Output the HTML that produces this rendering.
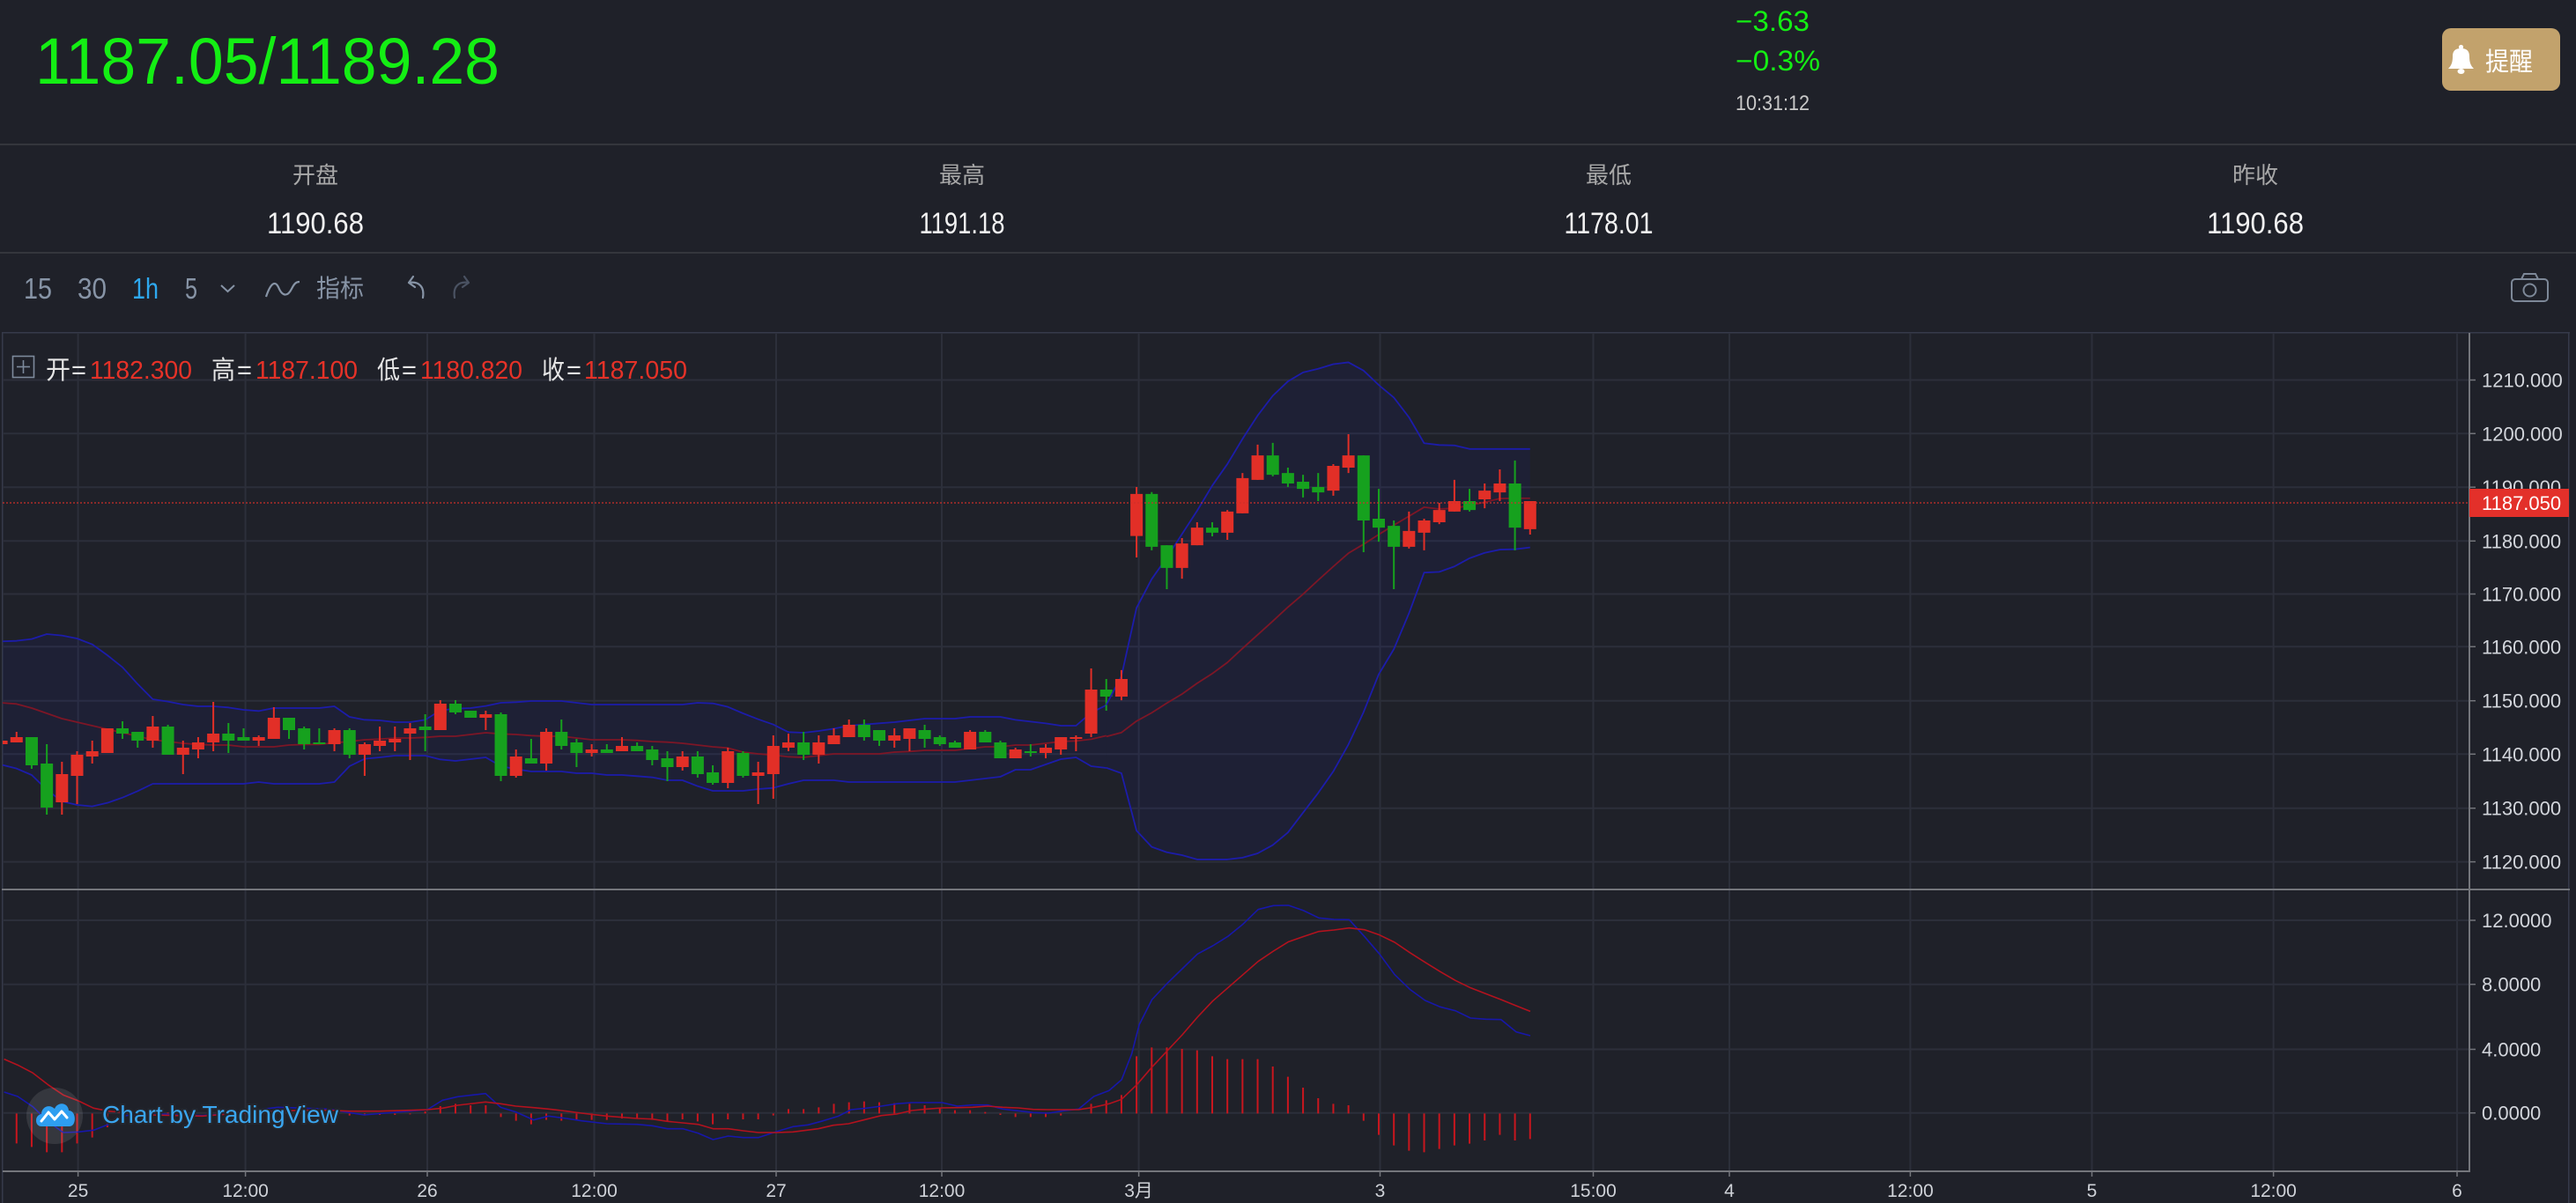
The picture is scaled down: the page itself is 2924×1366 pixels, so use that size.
<!DOCTYPE html>
<html>
<head>
<meta charset="utf-8">
<style>
html,body{margin:0;padding:0;background:#1f2129;}
svg{display:block;}
text{font-family:"Liberation Sans","Noto Sans CJK SC",sans-serif;}
</style>
</head>
<body>
<svg width="2924" height="1366" viewBox="0 0 2924 1366" xmlns="http://www.w3.org/2000/svg">
<defs>
<clipPath id="cm"><rect x="3" y="378" width="2800" height="631"/></clipPath>
<clipPath id="cd"><rect x="3" y="1011" width="2800" height="319"/></clipPath>
</defs>
<rect x="0" y="0" width="2924" height="1366" fill="#1f2129"/>

<!-- Header -->
<text x="40" y="95" font-size="74" fill="#14ee14" textLength="527" lengthAdjust="spacingAndGlyphs">1187.05/1189.28</text>
<text x="1970" y="35" font-size="32" fill="#14ee14" textLength="84" lengthAdjust="spacingAndGlyphs">−3.63</text>
<text x="1970" y="80" font-size="32" fill="#14ee14" textLength="96" lengthAdjust="spacingAndGlyphs">−0.3%</text>
<text x="1970" y="125" font-size="24" fill="#c8c8c8" textLength="84" lengthAdjust="spacingAndGlyphs">10:31:12</text>
<rect x="2772" y="32" width="134" height="71" rx="10" fill="#c2a26c"/>
<circle cx="2793.5" cy="53.5" r="2.6" fill="#fff"/>
<path d="M2779,78 L2808,78 C2804,74 2803,70 2803,64 C2803,57 2799,55 2793.5,55 C2788,55 2784,57 2784,64 C2784,70 2783,74 2779,78 Z" fill="#fff"/>
<ellipse cx="2793.5" cy="81" rx="4" ry="3" fill="#fff"/>
<text x="2821" y="80" font-size="29" fill="#fff" textLength="54" lengthAdjust="spacingAndGlyphs">提醒</text>

<rect x="0" y="163" width="2924" height="2" fill="#34363c"/>
<text x="358" y="208" font-size="26" fill="#a8a8a8" text-anchor="middle">开盘</text>
<text x="1092" y="208" font-size="26" fill="#a8a8a8" text-anchor="middle">最高</text>
<text x="1826" y="208" font-size="26" fill="#a8a8a8" text-anchor="middle">最低</text>
<text x="2560" y="208" font-size="26" fill="#a8a8a8" text-anchor="middle">昨收</text>
<text x="358" y="265" font-size="34" fill="#f2f2f2" text-anchor="middle" textLength="110" lengthAdjust="spacingAndGlyphs">1190.68</text>
<text x="1092" y="265" font-size="34" fill="#f2f2f2" text-anchor="middle" textLength="97" lengthAdjust="spacingAndGlyphs">1191.18</text>
<text x="1826" y="265" font-size="34" fill="#f2f2f2" text-anchor="middle" textLength="101" lengthAdjust="spacingAndGlyphs">1178.01</text>
<text x="2560" y="265" font-size="34" fill="#f2f2f2" text-anchor="middle" textLength="110" lengthAdjust="spacingAndGlyphs">1190.68</text>
<rect x="0" y="286" width="2924" height="2" fill="#34363c"/>

<!-- Toolbar -->
<text x="27" y="339" font-size="33" fill="#8794a6" textLength="32" lengthAdjust="spacingAndGlyphs">15</text>
<text x="88" y="339" font-size="33" fill="#8794a6" textLength="33" lengthAdjust="spacingAndGlyphs">30</text>
<text x="150" y="339" font-size="33" fill="#2ea8ee" textLength="30" lengthAdjust="spacingAndGlyphs">1h</text>
<text x="210" y="339" font-size="33" fill="#8794a6" textLength="14" lengthAdjust="spacingAndGlyphs">5</text>
<polyline points="251,324 258.5,331 266,324" fill="none" stroke="#8794a6" stroke-width="2"/>
<path d="M302,337 C307,322 312,318 316,326 C320,336 326,338 331,328 C334,322 336,320 340,320" fill="none" stroke="#8794a6" stroke-width="2.2"/>
<text x="359" y="337" font-size="28" fill="#8794a6" textLength="54" lengthAdjust="spacingAndGlyphs">指标</text>
<path d="M480,338 C482,326 476,319 464,321 M464,321 L469,314 M464,321 L471,326" fill="none" stroke="#8794a6" stroke-width="2.2" stroke-linecap="round"/>
<path d="M516,338 C514,326 520,319 532,321 M532,321 L527,314 M532,321 L525,326" fill="none" stroke="#4a5262" stroke-width="2.2" stroke-linecap="round"/>
<rect x="2851" y="317" width="41" height="25" rx="4" fill="none" stroke="#7d8898" stroke-width="2"/>
<path d="M2862,317 L2865,311 L2878,311 L2881,317" fill="none" stroke="#7d8898" stroke-width="2"/>
<circle cx="2871.5" cy="329.5" r="7" fill="none" stroke="#7d8898" stroke-width="2"/>

<!-- Chart frame -->
<rect x="2" y="377" width="2915" height="1.5" fill="#363a4a"/>
<rect x="2" y="377" width="1.5" height="989" fill="#363a4a"/>
<rect x="2915" y="377" width="1.5" height="989" fill="#363a4a"/>

<!-- Gridlines -->
<g stroke="#2c2f3a" stroke-width="2">
<line x1="3" y1="431.5" x2="2803" y2="431.5"/>
<line x1="3" y1="492.3" x2="2803" y2="492.3"/>
<line x1="3" y1="553.2" x2="2803" y2="553.2"/>
<line x1="3" y1="614.3" x2="2803" y2="614.3"/>
<line x1="3" y1="674.5" x2="2803" y2="674.5"/>
<line x1="3" y1="734.3" x2="2803" y2="734.3"/>
<line x1="3" y1="795.7" x2="2803" y2="795.7"/>
<line x1="3" y1="856.3" x2="2803" y2="856.3"/>
<line x1="3" y1="917.7" x2="2803" y2="917.7"/>
<line x1="3" y1="978.6" x2="2803" y2="978.6"/>
<line x1="3" y1="1045" x2="2803" y2="1045"/>
<line x1="3" y1="1117.7" x2="2803" y2="1117.7"/>
<line x1="3" y1="1191.5" x2="2803" y2="1191.5"/>
<line x1="3" y1="1263.7" x2="2803" y2="1263.7"/>
<line x1="88.6" y1="378" x2="88.6" y2="1330"/>
<line x1="278.6" y1="378" x2="278.6" y2="1330"/>
<line x1="485" y1="378" x2="485" y2="1330"/>
<line x1="674.5" y1="378" x2="674.5" y2="1330"/>
<line x1="881" y1="378" x2="881" y2="1330"/>
<line x1="1069" y1="378" x2="1069" y2="1330"/>
<line x1="1292.6" y1="378" x2="1292.6" y2="1330"/>
<line x1="1566.5" y1="378" x2="1566.5" y2="1330"/>
<line x1="1808.5" y1="378" x2="1808.5" y2="1330"/>
<line x1="1963" y1="378" x2="1963" y2="1330"/>
<line x1="2168.4" y1="378" x2="2168.4" y2="1330"/>
<line x1="2374.5" y1="378" x2="2374.5" y2="1330"/>
<line x1="2580.6" y1="378" x2="2580.6" y2="1330"/>
<line x1="2789" y1="378" x2="2789" y2="1330"/>
</g>

<!-- Main pane -->
<g clip-path="url(#cm)">
 <g transform="translate(0,680) scale(1,0.333333)">
  <polygon fill="#2121a8" fill-opacity="0.1" points="1.6,145 18.78,143 35.96,137 53.14,120 70.32,125 87.5,135 104.68,155 121.86,192 139.04,233 156.22,290 173.4,342 190.58,350 207.76,360 224.94,366 242.12,366 259.3,370 276.48,378 293.66,382 310.84,372 328.02,372 345.2,372 362.38,372 379.56,366 396.74,402 413.92,412 431.1,414 448.28,420 465.46,420 482.64,412 499.82,380 517,374 534.18,372 551.36,365 568.54,354 585.72,352 602.9,348 620.08,348 637.26,348 654.44,354 671.62,360 688.8,360 705.98,360 723.16,360 740.34,360 757.52,360 774.7,360 791.88,354 809.06,356 826.24,368 843.42,390 860.6,410 877.78,428 894.96,454 912.14,456 929.32,450 946.5,442 963.68,432 980.86,428 998.04,424 1015.22,420 1032.4,414 1049.58,408 1066.76,408 1083.94,408 1101.12,402 1118.3,402 1135.48,402 1152.66,412 1169.84,418 1187.02,424 1204.2,432 1221.38,432 1238.56,388 1255.74,362 1255.74,576 1238.56,570 1221.38,540 1204.2,546 1187.02,564 1169.84,582 1152.66,582 1135.48,606 1118.3,612 1101.12,618 1083.94,624 1066.76,624 1049.58,624 1032.4,624 1015.22,624 998.04,624 980.86,624 963.68,624 946.5,618 929.32,618 912.14,618 894.96,630 877.78,644 860.6,648 843.42,654 826.24,654 809.06,654 791.88,638 774.7,618 757.52,618 740.34,608 723.16,604 705.98,600 688.8,600 671.62,594 654.44,594 637.26,588 620.08,588 602.9,588 585.72,580 568.54,570 551.36,540 534.18,546 517,552 499.82,547 482.64,534 465.46,534 448.28,534 431.1,540 413.92,545 396.74,570 379.56,624 362.38,630 345.2,630 328.02,630 310.84,630 293.66,624 276.48,630 259.3,630 242.12,630 224.94,630 207.76,630 190.58,630 173.4,630 156.22,655 139.04,677 121.86,695 104.68,707 87.5,702 70.32,690 53.14,650 35.96,600 18.78,578 1.6,565"/>
  <g fill="none" stroke-width="1.8" vector-effect="non-scaling-stroke" stroke-linejoin="round">
  <polyline vector-effect="non-scaling-stroke" stroke="#1c1caa" stroke-width="1.8" fill="none" points="1.6,145 18.78,143 35.96,137 53.14,120 70.32,125 87.5,135 104.68,155 121.86,192 139.04,233 156.22,290 173.4,342 190.58,350 207.76,360 224.94,366 242.12,366 259.3,370 276.48,378 293.66,382 310.84,372 328.02,372 345.2,372 362.38,372 379.56,366 396.74,402 413.92,412 431.1,414 448.28,420 465.46,420 482.64,412 499.82,380 517,374 534.18,372 551.36,365 568.54,354 585.72,352 602.9,348 620.08,348 637.26,348 654.44,354 671.62,360 688.8,360 705.98,360 723.16,360 740.34,360 757.52,360 774.7,360 791.88,354 809.06,356 826.24,368 843.42,390 860.6,410 877.78,428 894.96,454 912.14,456 929.32,450 946.5,442 963.68,432 980.86,428 998.04,424 1015.22,420 1032.4,414 1049.58,408 1066.76,408 1083.94,408 1101.12,402 1118.3,402 1135.48,402 1152.66,412 1169.84,418 1187.02,424 1204.2,432 1221.38,432 1238.56,388 1255.74,362"/>
  <polyline vector-effect="non-scaling-stroke" stroke="#1c1caa" stroke-width="1.8" fill="none" points="1.6,565 18.78,578 35.96,600 53.14,650 70.32,690 87.5,702 104.68,707 121.86,695 139.04,677 156.22,655 173.4,630 190.58,630 207.76,630 224.94,630 242.12,630 259.3,630 276.48,630 293.66,624 310.84,630 328.02,630 345.2,630 362.38,630 379.56,624 396.74,570 413.92,545 431.1,540 448.28,534 465.46,534 482.64,534 499.82,547 517,552 534.18,546 551.36,540 568.54,570 585.72,580 602.9,588 620.08,588 637.26,588 654.44,594 671.62,594 688.8,600 705.98,600 723.16,604 740.34,608 757.52,618 774.7,618 791.88,638 809.06,654 826.24,654 843.42,654 860.6,648 877.78,644 894.96,630 912.14,618 929.32,618 946.5,618 963.68,624 980.86,624 998.04,624 1015.22,624 1032.4,624 1049.58,624 1066.76,624 1083.94,624 1101.12,618 1118.3,612 1135.48,606 1152.66,582 1169.84,582 1187.02,564 1204.2,546 1221.38,540 1238.56,570 1255.74,576"/>
  <polyline vector-effect="non-scaling-stroke" stroke="#7d1626" stroke-width="1.8" fill="none" points="1.6,354 18.78,358 35.96,372 53.14,390 70.32,408 87.5,420 104.68,432 121.86,444 139.04,456 156.22,468 173.4,480 190.58,486 207.76,492 224.94,496 242.12,498 259.3,498 276.48,504 293.66,504 310.84,504 328.02,498 345.2,496 362.38,496 379.56,490 396.74,486 413.92,480 431.1,478 448.28,474 465.46,474 482.64,472 499.82,468 517,468 534.18,462 551.36,456 568.54,460 585.72,462 602.9,466 620.08,468 637.26,468 654.44,474 671.62,480 688.8,480 705.98,480 723.16,482 740.34,486 757.52,488 774.7,492 791.88,498 809.06,504 826.24,508 843.42,522 860.6,528 877.78,532 894.96,538 912.14,540 929.32,534 946.5,528 963.68,528 980.86,528 998.04,528 1015.22,522 1032.4,520 1049.58,516 1066.76,516 1083.94,516 1101.12,510 1118.3,504 1135.48,504 1152.66,498 1169.84,498 1187.02,492 1204.2,486 1221.38,484 1238.56,478 1255.74,466"/>
  </g>
  <path vector-effect="non-scaling-stroke" stroke="#e22f27" stroke-width="2" fill="none" d="M1.6 483V495M18.78 453V489M70.32 555V735M87.5 519V699M104.68 483V561M121.86 441V525M173.4 399V507M207.76 483V597M224.94 471V543M242.12 351V519M293.66 465V501M310.84 369V477M379.56 441V519M413.92 489V603M431.1 435V519M448.28 435V519M465.46 423V549M499.82 345V447M551.36 381V447M585.72 513V609M620.08 441V585M671.62 495V537M705.98 471V519M774.7 519V585M826.24 507V645M860.6 555V699M877.78 465V681M894.96 459V519M929.32 465V561M946.5 441V495M963.68 411V471M1015.22 441V507M1032.4 441V519M1101.12 447V513M1152.66 507V543M1187.02 495V543M1204.2 471V531M1221.38 465V519M1238.56 237V471"/>
  <path vector-effect="non-scaling-stroke" stroke="#e22f27" stroke-width="14" fill="none" d="M1.6 483V495M18.78 471V489M70.32 597V693M87.5 531V603M104.68 519V537M121.86 441V525M173.4 435V483M207.76 507V531M224.94 489V513M242.12 459V489M293.66 471V483M310.84 405V477M379.56 447V495M413.92 495V531M431.1 483V501M448.28 477V489M465.46 441V459M499.82 357V447M551.36 393V405M585.72 537V603M620.08 453V561M671.62 513V525M705.98 501V519M774.7 537V573M826.24 519V627M860.6 591V603M877.78 501V597M894.96 489V507M929.32 489V531M946.5 465V495M963.68 429V471M1015.22 465V483M1032.4 441V477M1101.12 453V513M1152.66 513V543M1187.02 507V525M1204.2 471V513M1221.38 471V477M1238.56 309V459"/>
  <path vector-effect="non-scaling-stroke" stroke="#16a11e" stroke-width="2" fill="none" d="M35.96 471V579M53.14 495V735M139.04 417V477M156.22 453V507M190.58 429V531M259.3 423V525M276.48 441V483M328.02 405V477M345.2 435V513M362.38 441V495M396.74 441V543M482.64 393V519M517 345V393M534.18 381V405M568.54 387V621M602.9 477V561M637.26 411V513M654.44 477V573M688.8 495V525M723.16 489V519M740.34 501V567M757.52 519V621M791.88 519V609M809.06 567V633M843.42 519V609M912.14 453V549M980.86 411V483M998.04 447V501M1049.58 429V507M1066.76 465V501M1083.94 483V507M1118.3 447V489M1135.48 483V543M1169.84 495V537M1255.74 273V381"/>
  <path vector-effect="non-scaling-stroke" stroke="#16a11e" stroke-width="14" fill="none" d="M35.96 471V567M53.14 561V711M139.04 441V459M156.22 453V483M190.58 435V531M259.3 459V483M276.48 471V483M328.02 405V447M345.2 441V495M362.38 489V495M396.74 447V531M482.64 435V447M517 357V387M534.18 381V405M568.54 393V603M602.9 543V561M637.26 453V501M654.44 489V525M688.8 513V525M723.16 501V519M740.34 513V549M757.52 543V573M791.88 537V597M809.06 591V627M843.42 525V603M912.14 489V531M980.86 429V471M998.04 447V483M1049.58 447V477M1066.76 471V495M1083.94 489V507M1118.3 453V489M1135.48 489V543M1169.84 519V525M1255.74 309V333"/>
 </g>
 <g transform="translate(0,380) scale(1,0.408163)">
  <polygon fill="#2121a8" fill-opacity="0.1" points="1255.74,1030 1272.92,950 1290.1,760 1307.28,680 1324.46,620 1341.64,555 1358.82,490 1376,420 1393.18,360 1410.36,290 1427.54,225 1444.72,170 1461.9,130 1479.08,105 1496.26,95 1513.44,82 1530.62,77 1547.8,100 1564.98,140 1582.16,175 1599.34,230 1616.52,302 1633.7,307 1650.88,308 1668.06,318 1685.24,318 1702.42,318 1719.6,318 1736.78,318 1736.78,592 1719.6,597 1702.42,598 1685.24,607 1668.06,622 1650.88,645 1633.7,660 1616.52,662 1599.34,775 1582.16,875 1564.98,945 1547.8,1050 1530.62,1140 1513.44,1215 1496.26,1275 1479.08,1330 1461.9,1385 1444.72,1420 1427.54,1443 1410.36,1455 1393.18,1460 1376,1460 1358.82,1460 1341.64,1448 1324.46,1440 1307.28,1425 1290.1,1380 1272.92,1220 1255.74,1205"/>
  <polyline vector-effect="non-scaling-stroke" stroke="#1c1caa" stroke-width="1.8" fill="none" stroke-linejoin="round" points="1255.74,1030 1272.92,950 1290.1,760 1307.28,680 1324.46,620 1341.64,555 1358.82,490 1376,420 1393.18,360 1410.36,290 1427.54,225 1444.72,170 1461.9,130 1479.08,105 1496.26,95 1513.44,82 1530.62,77 1547.8,100 1564.98,140 1582.16,175 1599.34,230 1616.52,302 1633.7,307 1650.88,308 1668.06,318 1685.24,318 1702.42,318 1719.6,318 1736.78,318"/>
  <polyline vector-effect="non-scaling-stroke" stroke="#1c1caa" stroke-width="1.8" fill="none" stroke-linejoin="round" points="1255.74,1205 1272.92,1220 1290.1,1380 1307.28,1425 1324.46,1440 1341.64,1448 1358.82,1460 1376,1460 1393.18,1460 1410.36,1455 1427.54,1443 1444.72,1420 1461.9,1385 1479.08,1330 1496.26,1275 1513.44,1215 1530.62,1140 1547.8,1050 1564.98,945 1582.16,875 1599.34,775 1616.52,662 1633.7,660 1650.88,645 1668.06,622 1685.24,607 1702.42,598 1719.6,597 1736.78,592"/>
  <polyline vector-effect="non-scaling-stroke" stroke="#7d1626" stroke-width="1.8" fill="none" stroke-linejoin="round" points="1255.74,1118 1272.92,1107 1290.1,1075 1307.28,1052 1324.46,1025 1341.64,1000 1358.82,970 1376,943 1393.18,912 1410.36,873 1427.54,835 1444.72,797 1461.9,758 1479.08,722 1496.26,683 1513.44,645 1530.62,608 1547.8,583 1564.98,556 1582.16,530 1599.34,505 1616.52,480 1633.7,485 1650.88,483 1668.06,475 1685.24,466 1702.42,456 1719.6,455 1736.78,455"/>
  <path vector-effect="non-scaling-stroke" stroke="#e22f27" stroke-width="2" fill="none" d="M1272.92 933V1017M1290.1 424V620M1341.64 566V679M1358.82 522V586M1393.18 488V571M1410.36 385V497M1427.54 306V404M1513.44 360V448M1530.62 277V385M1599.34 492V595M1616.52 512V600M1633.7 468V527M1650.88 404V492M1685.24 414V483M1702.42 375V463M1736.78 463V556"/>
  <path vector-effect="non-scaling-stroke" stroke="#e22f27" stroke-width="14" fill="none" d="M1272.92 958V1007M1290.1 443V560M1341.64 581V649M1358.82 537V586M1393.18 492V551M1410.36 399V497M1427.54 336V404M1513.44 365V434M1530.62 336V370M1599.34 546V590M1616.52 517V551M1633.7 488V522M1650.88 463V492M1685.24 434V458M1702.42 414V439M1736.78 463V541"/>
  <path vector-effect="non-scaling-stroke" stroke="#16a11e" stroke-width="2" fill="none" d="M1307.28 438V600M1324.46 586V708M1376 522V561M1444.72 301V394M1461.9 370V424M1479.08 390V453M1496.26 385V463M1547.8 336V605M1564.98 429V576M1582.16 517V708M1668.06 429V492M1719.6 350V600"/>
  <path vector-effect="non-scaling-stroke" stroke="#16a11e" stroke-width="14" fill="none" d="M1307.28 443V590M1324.46 586V649M1376 537V551M1444.72 336V390M1461.9 385V414M1479.08 409V429M1496.26 424V439M1547.8 336V517M1564.98 512V537M1582.16 532V590M1668.06 463V488M1719.6 414V537"/>
 </g>
 <line x1="3" y1="571" x2="2803" y2="571" stroke="#d0302a" stroke-opacity="0.6" stroke-width="2" stroke-dasharray="2 2"/>
</g>

<!-- MACD pane -->
<g clip-path="url(#cd)">
 <g transform="translate(0,1010) scale(1,0.333333)">
  <path vector-effect="non-scaling-stroke" stroke="#c8161e" stroke-width="2" fill="none" d="M18.78 763V865M35.96 763V877M53.14 763V895M70.32 763V895M87.5 763V865M104.68 763V845M121.86 763V810M139.04 763V778M156.22 763V766M173.4 763V757M190.58 763V760M276.48 763V757M293.66 763V754M310.84 763V750M328.02 763V753M345.2 763V756M362.38 763V758M396.74 763V770M413.92 763V770M431.1 763V768M448.28 763V768M465.46 763V766M482.64 763V756M499.82 763V738M517 763V730M534.18 763V735M551.36 763V735M568.54 763V775M585.72 763V788M602.9 763V800M620.08 763V785M637.26 763V788M654.44 763V785M671.62 763V785M688.8 763V785M705.98 763V780M723.16 763V780M740.34 763V785M757.52 763V790M774.7 763V783M791.88 763V790M809.06 763V800M826.24 763V783M843.42 763V783M860.6 763V783M877.78 763V770M894.96 763V748M912.14 763V748M929.32 763V742M946.5 763V730M963.68 763V725M980.86 763V722M998.04 763V725M1015.22 763V728M1032.4 763V730M1049.58 763V735M1066.76 763V743M1083.94 763V752M1101.12 763V752M1118.3 763V758M1135.48 763V768M1152.66 763V775M1169.84 763V775M1187.02 763V775M1204.2 763V770M1238.56 763V730M1255.74 763V718M1272.92 763V700M1290.1 763V568M1307.28 763V538M1324.46 763V538M1341.64 763V543M1358.82 763V548M1376 763V568M1393.18 763V578M1410.36 763V578M1427.54 763V578M1444.72 763V603M1461.9 763V638M1479.08 763V675M1496.26 763V711M1513.44 763V730M1530.62 763V735M1547.8 763V788M1564.98 763V836M1582.16 763V872M1599.34 763V890M1616.52 763V895M1633.7 763V884M1650.88 763V872M1668.06 763V866M1685.24 763V855M1702.42 763V836M1719.6 763V855M1736.78 763V850"/>
  <polyline vector-effect="non-scaling-stroke" stroke="#1717aa" stroke-width="1.6" fill="none" stroke-linejoin="round" points="4.6,690 20.1,705 37.3,740 54.5,790 71.8,828 89,826 106.2,820 123.4,800 143.5,770 172.2,762 200.9,768 229.6,770 258.3,765 287,752 315.7,742 344.4,745 373.1,748 396.1,760 413.3,768 436.3,762 465,755 485.1,750 502.3,718 519.5,706 551.1,695 568.3,742 585.5,758 605.6,785 622.8,772 642.9,780 660.2,788 688.9,798 723.3,800 740.5,805 757.7,815 775,815 792.2,830 809.4,852 826.6,840 843.9,845 861.1,845 881.2,825 900,808 917.2,802 934.4,788 951.7,772 966,750 983.2,745 1000.5,738 1017.7,730 1034.9,726 1052.1,726 1069.3,726 1086.6,738 1103.8,734 1121,734 1138.2,748 1155.5,754 1172.7,760 1189.9,762 1207.1,754 1224.3,748 1241.6,705 1258.8,685 1273.1,648 1284.6,560 1293.2,460 1307.6,375 1324.8,320 1342,270 1359.2,220 1376.5,192 1393.7,160 1410.9,118 1428.1,68 1445.4,55 1462.6,54 1479.8,72 1497,97 1514.2,102 1531.5,103 1548.7,160 1565.9,220 1583.1,290 1600.3,340 1617.6,378 1634.8,400 1652,413 1669.2,438 1686.5,442 1703.7,443 1720.9,485 1737,498"/>
  <polyline vector-effect="non-scaling-stroke" stroke="#b3121e" stroke-width="1.6" fill="none" stroke-linejoin="round" points="4.6,578 20.1,598 37.3,625 54.5,665 71.8,700 89,720 106.2,745 123.4,755 149.3,762 172.2,768 200.9,770 229.6,772 258.3,765 287,760 315.7,755 344.4,752 373.1,752 396.1,755 430.5,755 465,752 485.1,750 502.3,745 519.5,735 551.1,724 568.3,730 585.5,738 605.6,743 622.8,748 642.9,755 660.2,762 688.9,772 723.3,780 740.5,782 757.7,790 775,795 792.2,800 809.4,815 826.6,815 843.9,822 861.1,828 881.2,828 900,826 928.7,815 945.9,803 963.1,798 980.4,785 1000.5,770 1017.7,765 1034.9,753 1052.1,748 1069.3,744 1086.6,743 1103.8,742 1121,738 1138.2,742 1155.5,744 1172.7,749 1189.9,750 1207.1,750 1224.3,750 1241.6,742 1258.8,730 1273.1,715 1290.4,665 1307.6,605 1324.8,550 1342,495 1359.2,435 1376.5,380 1393.7,335 1410.9,290 1428.1,245 1445.4,210 1462.6,178 1479.8,160 1497,143 1514.2,138 1531.5,131 1548.7,137 1565.9,155 1583.1,180 1600.3,215 1617.6,248 1634.8,280 1652,310 1669.2,335 1686.5,355 1703.7,375 1720.9,396 1737,415"/>
 </g>
 <!-- watermark -->
 <circle cx="62" cy="1267" r="32" fill="#ffffff" fill-opacity="0.1"/>
 <path d="M47,1279 C39,1279 39,1266 47,1265 C47,1257 56,1253 62,1259 C65,1251 77,1251 78,1261 C87,1261 87,1279 79,1279 Z" fill="#2e9ef0"/>
 <polyline points="47,1273 55,1263 62,1271 70,1262 76,1269" fill="none" stroke="#ffffff" stroke-width="3" stroke-linejoin="round" stroke-linecap="round"/>
 <text x="116" y="1275" font-size="28" fill="#3aa6f0" stroke="#23262e" stroke-width="4" paint-order="stroke" textLength="268" lengthAdjust="spacingAndGlyphs">Chart by TradingView</text>
</g>

<!-- Axes lines -->
<rect x="2" y="1009" width="2915" height="2" fill="#74767c"/>
<rect x="2802" y="378" width="2" height="952" fill="#74767c"/>
<rect x="3" y="1329" width="2801" height="2" fill="#74767c"/>

<!-- Price axis ticks & labels -->
<g stroke="#74767c" stroke-width="1.5">
<line x1="2803" y1="431.5" x2="2810" y2="431.5"/>
<line x1="2803" y1="492.3" x2="2810" y2="492.3"/>
<line x1="2803" y1="553.2" x2="2810" y2="553.2"/>
<line x1="2803" y1="614.3" x2="2810" y2="614.3"/>
<line x1="2803" y1="674.5" x2="2810" y2="674.5"/>
<line x1="2803" y1="734.3" x2="2810" y2="734.3"/>
<line x1="2803" y1="795.7" x2="2810" y2="795.7"/>
<line x1="2803" y1="856.3" x2="2810" y2="856.3"/>
<line x1="2803" y1="917.7" x2="2810" y2="917.7"/>
<line x1="2803" y1="978.6" x2="2810" y2="978.6"/>
<line x1="2803" y1="1045" x2="2810" y2="1045"/>
<line x1="2803" y1="1117.7" x2="2810" y2="1117.7"/>
<line x1="2803" y1="1191.5" x2="2810" y2="1191.5"/>
<line x1="2803" y1="1263.7" x2="2810" y2="1263.7"/>
<line x1="88.6" y1="1330" x2="88.6" y2="1336"/>
<line x1="278.6" y1="1330" x2="278.6" y2="1336"/>
<line x1="485" y1="1330" x2="485" y2="1336"/>
<line x1="674.5" y1="1330" x2="674.5" y2="1336"/>
<line x1="881" y1="1330" x2="881" y2="1336"/>
<line x1="1069" y1="1330" x2="1069" y2="1336"/>
<line x1="1292.6" y1="1330" x2="1292.6" y2="1336"/>
<line x1="1566.5" y1="1330" x2="1566.5" y2="1336"/>
<line x1="1808.5" y1="1330" x2="1808.5" y2="1336"/>
<line x1="1963" y1="1330" x2="1963" y2="1336"/>
<line x1="2168.4" y1="1330" x2="2168.4" y2="1336"/>
<line x1="2374.5" y1="1330" x2="2374.5" y2="1336"/>
<line x1="2580.6" y1="1330" x2="2580.6" y2="1336"/>
<line x1="2789" y1="1330" x2="2789" y2="1336"/>
</g>
<g font-size="22" fill="#d3d6dc">
<text x="2817" y="439.5">1210.000</text>
<text x="2817" y="500.3">1200.000</text>
<text x="2817" y="561.2">1190.000</text>
<text x="2817" y="622.3">1180.000</text>
<text x="2817" y="682.5">1170.000</text>
<text x="2817" y="742.3">1160.000</text>
<text x="2817" y="803.7">1150.000</text>
<text x="2817" y="864.3">1140.000</text>
<text x="2817" y="925.7">1130.000</text>
<text x="2817" y="986.6">1120.000</text>
<text x="2817" y="1053">12.0000</text>
<text x="2817" y="1125.7">8.0000</text>
<text x="2817" y="1199.5">4.0000</text>
<text x="2817" y="1271.7">0.0000</text>
</g>
<rect x="2803" y="555" width="113" height="32" fill="#e3302a"/>
<text x="2817" y="579" font-size="22" fill="#ffffff">1187.050</text>

<!-- Time axis labels -->
<g font-size="21" fill="#cfd2d8" text-anchor="middle">
<text x="88.6" y="1359">25</text>
<text x="278.6" y="1359">12:00</text>
<text x="485" y="1359">26</text>
<text x="674.5" y="1359">12:00</text>
<text x="881" y="1359">27</text>
<text x="1069" y="1359">12:00</text>
<text x="1292.6" y="1359">3月</text>
<text x="1566.5" y="1359">3</text>
<text x="1808.5" y="1359">15:00</text>
<text x="1963" y="1359">4</text>
<text x="2168.4" y="1359">12:00</text>
<text x="2374.5" y="1359">5</text>
<text x="2580.6" y="1359">12:00</text>
<text x="2789" y="1359">6</text>
</g>

<!-- Legend -->
<rect x="14.5" y="404.5" width="24" height="24" fill="none" stroke="#7d8a9c" stroke-width="1.6"/>
<line x1="26.5" y1="409" x2="26.5" y2="424" stroke="#7d8a9c" stroke-width="1.6"/>
<line x1="19" y1="416.5" x2="34" y2="416.5" stroke="#7d8a9c" stroke-width="1.6"/>
<g font-size="29">
<text x="52" y="430" fill="#e6e6e6" textLength="28" lengthAdjust="spacingAndGlyphs">开</text>
<text x="81" y="430" fill="#e6e6e6">=</text>
<text x="102" y="430" fill="#e53228" textLength="116" lengthAdjust="spacingAndGlyphs">1182.300</text>
<text x="240" y="430" fill="#e6e6e6" textLength="27" lengthAdjust="spacingAndGlyphs">高</text>
<text x="269" y="430" fill="#e6e6e6">=</text>
<text x="290" y="430" fill="#e53228" textLength="116" lengthAdjust="spacingAndGlyphs">1187.100</text>
<text x="428" y="430" fill="#e6e6e6" textLength="26" lengthAdjust="spacingAndGlyphs">低</text>
<text x="456" y="430" fill="#e6e6e6">=</text>
<text x="477" y="430" fill="#e53228" textLength="116" lengthAdjust="spacingAndGlyphs">1180.820</text>
<text x="615" y="430" fill="#e6e6e6" textLength="26" lengthAdjust="spacingAndGlyphs">收</text>
<text x="643" y="430" fill="#e6e6e6">=</text>
<text x="663" y="430" fill="#e53228" textLength="117" lengthAdjust="spacingAndGlyphs">1187.050</text>
</g>
</svg>
</body>
</html>
